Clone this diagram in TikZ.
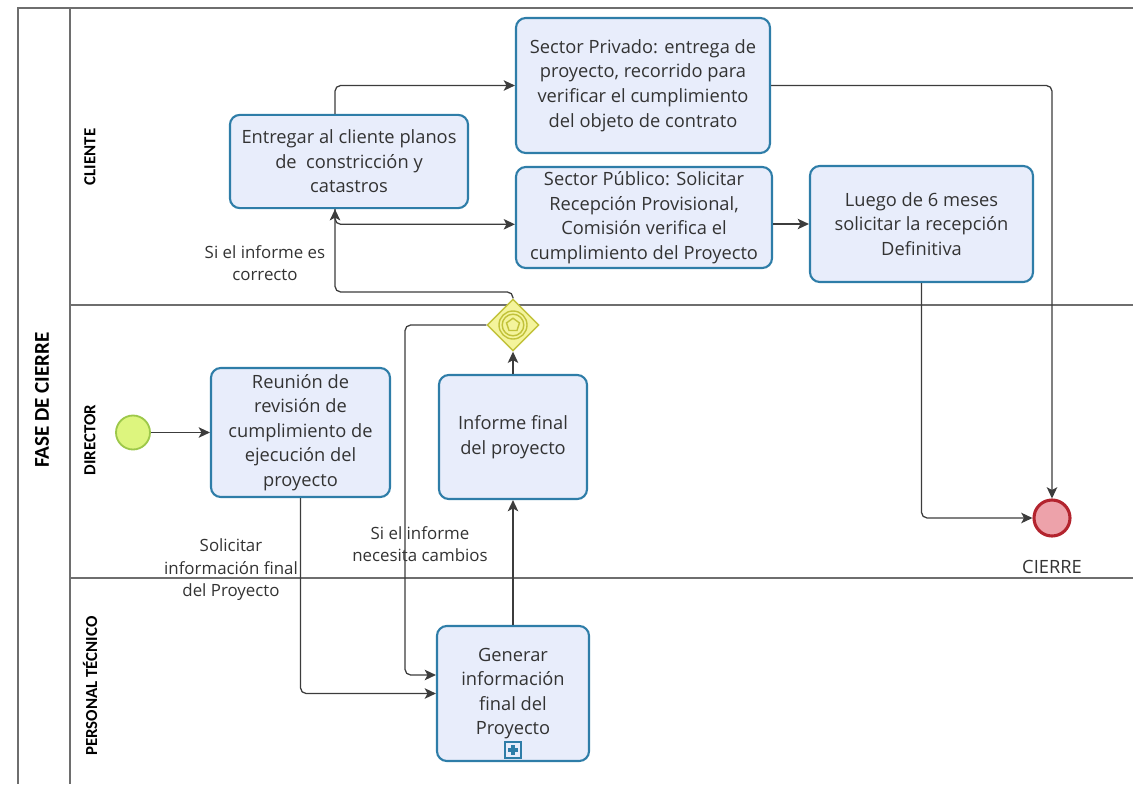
\documentclass[tikz,border=0pt]{standalone}
\usepackage{fontspec}
\setmainfont{Open Sans}
\newfontfamily\lanefont{Carlito}
\usetikzlibrary{shapes.geometric,arrows.meta}

\definecolor{taskfill}{HTML}{E8EDFB}
\definecolor{taskline}{HTML}{2E7DA8}
\definecolor{flowline}{HTML}{3C3C3C}
\definecolor{poolline}{HTML}{6E6E6E}
\definecolor{gwfill}{HTML}{F4F49C}
\definecolor{gwline}{HTML}{C2C23A}
\definecolor{startfill}{HTML}{DDF57E}
\definecolor{startline}{HTML}{9DC84A}
\definecolor{endfill}{HTML}{EDA2AA}
\definecolor{endline}{HTML}{B3242E}
\definecolor{textgray}{HTML}{333333}

\tikzset{
  task/.style={draw=taskline, fill=taskfill, line width=1.5pt, rounded corners=7pt,
    align=center, text=textgray, font=\fontsize{13}{17.5}\selectfont, inner sep=2pt},
  flow/.style={draw=flowline, line width=0.9pt, rounded corners=4pt,
    -{Stealth[length=8pt,width=7.5pt,inset=2pt]}},
  note/.style={align=center, text=textgray, font=\fontsize{12}{16}\selectfont},
  lane/.style={rotate=90, font=\lanefont\bfseries\fontsize{12}{14}\selectfont},
}

\begin{document}
\begin{tikzpicture}[x=0.025cm, y=-0.025cm]
  \useasboundingbox (0,0) rectangle (1133,784);
  % pool and lanes
  \draw[poolline, line width=1.4pt] (1133,8) -- (18,8) -- (18,784);
  \draw[poolline, line width=1.4pt] (70,8) -- (70,784);
  \draw[poolline, line width=1.4pt] (70,305) -- (1133,305);
  \draw[poolline, line width=1.4pt] (70,578) -- (1133,578);
  \node[lane, font=\lanefont\bfseries\fontsize{15}{17}\selectfont] (pool) at (42,400) {FASE DE CIERRE};
  \node[lane] (cliente) at (90,157) {CLIENTE};
  \node[lane] (director) at (90,440) {DIRECTOR};
  \node[lane] (tecnico) at (90,686) {PERSONAL TÉCNICO};

  % tasks
  \node[task, minimum width=5.95cm, minimum height=2.33cm] (entregar) at (349,161.5)
    {Entregar al cliente planos\\de~ constricción y\\catastros};
  \node[task, minimum width=6.35cm, minimum height=3.375cm] (privado) at (643,85.5)
    {Sector Privado: entrega de\\proyecto, recorrido para\\verificar el cumplimiento\\del objeto de contrato};
  \node[task, minimum width=6.4cm, minimum height=2.525cm] (publico) at (644,217.5)
    {Sector Público: Solicitar\\Recepción Provisional,\\Comisión verifica el\\cumplimiento del Proyecto};
  \node[task, minimum width=5.575cm, minimum height=2.9cm] (luego) at (921.5,224)
    {Luego de 6 meses\\solicitar la recepción\\Definitiva};
  \node[task, minimum width=4.475cm, minimum height=3.225cm] (reunion) at (300.5,432.5)
    {Reunión de\\revisión de\\cumplimiento de\\ejecución del\\proyecto};
  \node[task, minimum width=3.7cm, minimum height=3.1cm] (informe) at (513,437)
    {Informe final\\del proyecto};
  \node[task, minimum width=3.8cm, minimum height=3.375cm] (generar) at (513,693.5)
    {Generar\\información\\final del\\Proyecto};

  % subprocess marker
  \node[draw=taskline, fill=taskfill, line width=1pt, minimum size=0.4cm, inner sep=0pt] (sub) at (513,750) {};
  \draw[taskline, line width=2.2pt] ([xshift=-0.12cm]sub.center) -- ([xshift=0.12cm]sub.center);
  \draw[taskline, line width=2.2pt] ([yshift=-0.12cm]sub.center) -- ([yshift=0.12cm]sub.center);

  % gateway
  \node[diamond, aspect=1, draw=gwline, fill=gwfill, line width=1pt, minimum width=1.3cm,
    minimum height=1.3cm, inner sep=0pt] (gw) at (513,325) {};
  \draw[gwline, line width=1pt] (gw.center) circle[radius=0.35cm];
  \draw[gwline, line width=1pt] (gw.center) circle[radius=0.27cm];
  \node[regular polygon, regular polygon sides=5, draw=gwline, line width=1pt,
    minimum size=0.34cm, inner sep=0pt] (gwmark) at (gw) {};

  % events
  \node[circle, draw=startline, fill=startfill, line width=1.3pt, minimum size=0.85cm] (inicio) at (133,432.5) {};
  \node[circle, draw=endline, fill=endfill, line width=2.2pt, minimum size=0.9cm] (fin) at (1052,518) {};
  \node[note, font=\fontsize{13}{16}\selectfont] (cierre) at (1052,567) {CIERRE};

  % annotations
  \node[note] (correctolbl) at (265,263) {Si el informe es\\correcto};
  \node[note] (solicitarlbl) at (231,570) {Solicitar\\información final\\del Proyecto};
  \node[note] (cambioslbl) at (420,544) {Si el informe\\necesita cambios};

  \coordinate (correcto) at (335,292);
  \coordinate (cambio) at (405,675);

  % flows
  \draw[flow] (inicio) -- (reunion);
  \draw[flow] (reunion.south) |- (generar.west);
  \draw[flow] (generar) -- (informe);
  \draw[flow] (informe) -- (gw);
  \draw[flow] (gw.west) -| (cambio) -- (cambio -| generar.west);
  \draw[flow] (gw.north) |- (correcto) -- (correcto |- entregar.south);
  \draw[flow] (correcto |- entregar.south) |- ([yshift=-0.17cm]publico.west);
  \draw[flow] (correcto |- entregar.north) |- (privado.west);
  \draw[flow] (luego.west -| publico.east) -- (luego.west);
  \draw[flow] (privado.east) -| (fin.north);
  \draw[flow] (luego.south) |- (fin.west);
\end{tikzpicture}
\end{document}
